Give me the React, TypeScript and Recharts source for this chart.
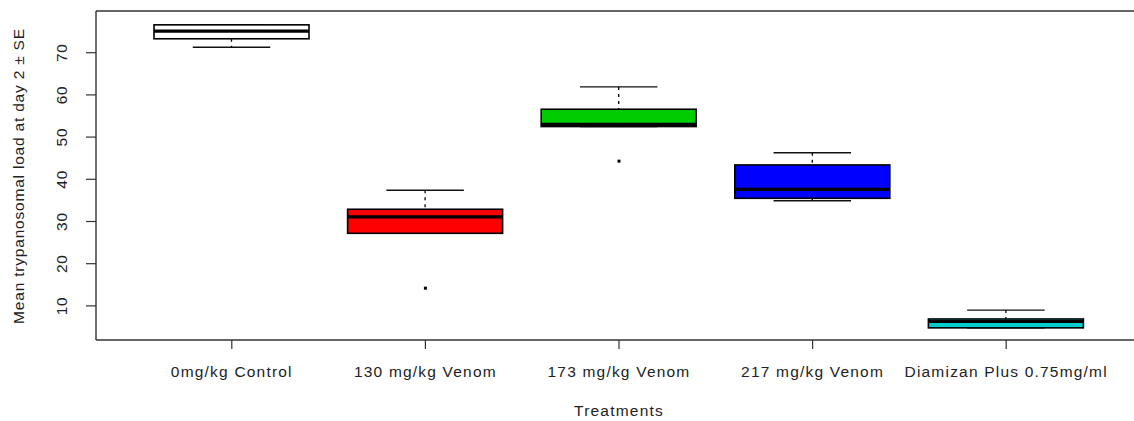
import { ComposedChart, Bar, Scatter, XAxis, YAxis, Label } from "recharts";

const treatments = [
  "0mg/kg Control",
  "130 mg/kg Venom",
  "173 mg/kg Venom",
  "217 mg/kg Venom",
  "Diamizan Plus 0.75mg/ml",
];
const whiskerLow = [71.3, 27.2, 52.5, 34.9, 4.8];
const lowerQuartile = [73.3, 27.2, 52.5, 35.5, 4.8];
const median = [75.1, 31.1, 53.0, 37.6, 6.3];
const upperQuartile = [76.6, 32.9, 56.6, 43.4, 6.9];
const whiskerHigh = [76.6, 37.4, 61.9, 46.3, 9.0];
const outliers = [null, 14.2, 44.3, null, null];
const yTicks = [10, 20, 30, 40, 50, 60, 70];

const boxFills = ["#FFFFFF", "#FF0000", "#00CD00", "#0000FF", "#00CDCD"];
const FONT = '"Liberation Sans", Arial, sans-serif';
const INK = "#222";
const FRAME = "#333";
const Y_MIN = 1.92;
const Y_MAX = 79.88;

const rows = treatments.map((name, i) => ({
  name,
  lo: whiskerLow[i],
  q1: lowerQuartile[i],
  med: median[i],
  q3: upperQuartile[i],
  hi: whiskerHigh[i],
}));

const outlierRows = treatments
  .map((name, i) => ({ name, value: outliers[i] }))
  .filter((r) => r.value !== null);

// box + whiskers, positions taken from the bar the library laid out for [lo, hi]
const BoxShape = (props: any) => {
  const { x, y, width, height, payload, index } = props;
  const { lo, q1, med, q3, hi } = payload;
  const py = (v: number) => y + (height * (hi - v)) / (hi - lo);
  const cx = x + width / 2;
  const cap = width / 4;
  return (
    <g>
      <line x1={cx} x2={cx} y1={py(hi)} y2={py(q3)} stroke="#000" strokeWidth={1.3} strokeDasharray="3 4" />
      <line x1={cx} x2={cx} y1={py(q1)} y2={py(lo)} stroke="#000" strokeWidth={1.3} strokeDasharray="3 4" />
      <line x1={cx - cap} x2={cx + cap} y1={py(hi)} y2={py(hi)} stroke="#111" strokeWidth={1.4} />
      <line x1={cx - cap} x2={cx + cap} y1={py(lo)} y2={py(lo)} stroke="#111" strokeWidth={1.4} />
      <rect x={x} y={py(q3)} width={width} height={py(q1) - py(q3)} fill={boxFills[index]} stroke="#000" strokeWidth={1.6} />
      <line x1={x} x2={x + width} y1={py(med)} y2={py(med)} stroke="#000" strokeWidth={3.2} />
    </g>
  );
};

const OutlierDot = (props: any) => (
  <rect x={props.cx - 1.5} y={props.cy - 1.5} width={3} height={3} fill="#000" />
);

const XTick = (props: any) => {
  const { x, payload } = props;
  return (
    <text x={x} y={377} textAnchor="middle" fontFamily={FONT} fontSize={15.5} letterSpacing={1.2} fill={INK}>
      {payload.value}
    </text>
  );
};

const YTick = (props: any) => {
  const { y, payload } = props;
  return (
    <text x={67.5} y={y} textAnchor="middle" transform={`rotate(-90, 67.5, ${y})`} fontFamily={FONT} fontSize={15.5} letterSpacing={0.8} fill={INK}>
      {payload.value}
    </text>
  );
};

export default function App() {
  return (
    <div style={{ position: "absolute", left: 0, top: 0, width: 1134, height: 421, overflow: "hidden", background: "#fff" }}>
      <ComposedChart width={1150} height={421} data={rows} margin={{ top: 10, right: 8, bottom: 0, left: 0 }}>
        <XAxis
          dataKey="name"
          type="category"
          allowDuplicatedCategory={false}
          height={81}
          padding={{ left: 39, right: 39 }}
          axisLine={{ stroke: FRAME, strokeWidth: 1.4 }}
          tickSize={9}
          tickLine={{ stroke: FRAME, strokeWidth: 1.2 }}
          tick={<XTick />}
          interval={0}
        >
          <Label
            content={() => (
              <text x={619} y={416} textAnchor="middle" fontFamily={FONT} fontSize={15.5} letterSpacing={1.2} fill={INK}>
                Treatments
              </text>
            )}
          />
        </XAxis>
        <XAxis
          xAxisId="frameTop"
          dataKey="name"
          orientation="top"
          allowDuplicatedCategory={false}
          height={1}
          axisLine={{ stroke: FRAME, strokeWidth: 1.4 }}
          tick={false}
          tickLine={false}
        />
        <YAxis
          type="number"
          domain={[Y_MIN, Y_MAX]}
          allowDataOverflow
          ticks={yTicks}
          width={96}
          axisLine={{ stroke: FRAME, strokeWidth: 1.4 }}
          tickSize={10}
          tickLine={{ stroke: FRAME, strokeWidth: 1.2 }}
          tick={<YTick />}
        >
          <Label
            content={() => (
              <text x={24} y={176} textAnchor="middle" transform="rotate(-90, 24, 176)" fontFamily={FONT} fontSize={15.5} letterSpacing={0.8} fill={INK}>
                Mean trypanosomal load at day 2 ± SE
              </text>
            )}
          />
        </YAxis>
        <YAxis
          yAxisId="frameRight"
          orientation="right"
          width={0}
          domain={[Y_MIN, Y_MAX]}
          axisLine={{ stroke: FRAME, strokeWidth: 1.4 }}
          tick={false}
          tickLine={false}
        />
        <Bar dataKey={(d: any) => [d.lo, d.hi]} barSize={155} shape={<BoxShape />} isAnimationActive={false} />
        <Scatter data={outlierRows} dataKey="value" shape={<OutlierDot />} isAnimationActive={false} />
      </ComposedChart>
    </div>
  );
}
